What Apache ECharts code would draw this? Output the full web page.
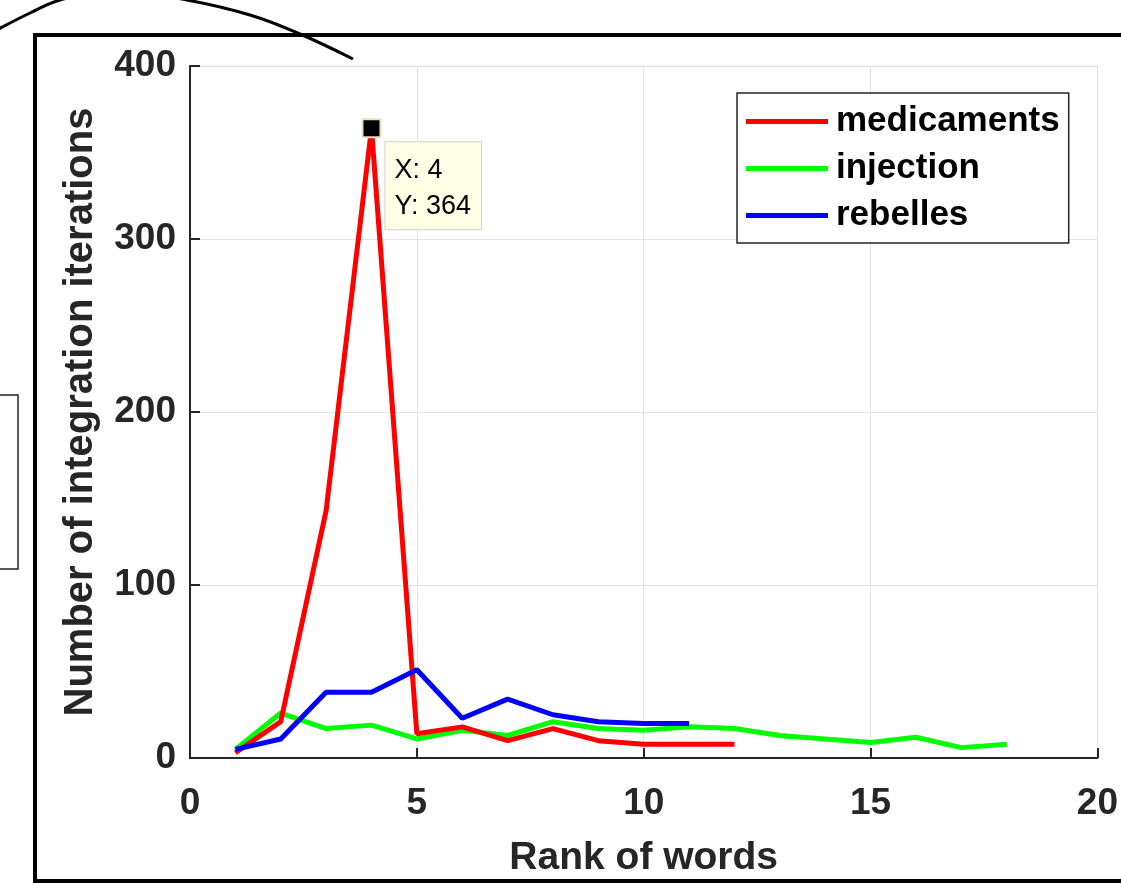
<!DOCTYPE html>
<html>
<head>
<meta charset="utf-8">
<script src="https://cdn.jsdelivr.net/npm/echarts@6/dist/echarts.min.js"></script>
<style>
html,body{margin:0;padding:0;background:#fff;}
#chart{width:1121px;height:883px;}
</style>
</head>
<body>
<div id="chart"></div>
<script>
// Data
const ranks = [1,2,3,4,5,6,7,8,9,10,11,12,13,14,15,16,17,18];
const medicaments = [3,21,143,364,14,18,10,17,10,8,8,8];
const injection = [5,26,17,19,11,16,13,21,17,16,18,17,13,11,9,12,6,8];
const rebelles = [5,11,38,38,51,23,34,25,21,20,20];
const seriesNames = ['medicaments','injection','rebelles'];
const seriesColors = ['#ff0000','#00ff00','#0000ff'];
const xTicks = {min:0, max:20, interval:5};
const yTicks = {min:0, max:400, interval:100};
const dataTip = {x:4, y:364};

function pairs(vals){ return vals.map((v,i)=>[ranks[i], v]); }

const FONT = '"Liberation Sans", Arial, Helvetica, sans-serif';
const chart = echarts.init(document.getElementById('chart'));

const option = {
  backgroundColor:'#ffffff',
  animation:false,
  textStyle:{fontFamily:FONT},
  grid:{left:190, top:66, right:22, bottom:125, show:true, borderColor:'#e3e3e3', borderWidth:1, backgroundColor:'transparent'},
  xAxis:{
    type:'value', min:xTicks.min, max:xTicks.max, interval:xTicks.interval,
    name:'Rank of words', nameLocation:'middle', nameGap:81,
    nameTextStyle:{fontSize:39, fontWeight:'bold', color:'#262626', fontFamily:FONT},
    axisLine:{show:true, onZero:false, lineStyle:{color:'#262626', width:2}},
    axisTick:{show:true, inside:true, length:10, lineStyle:{color:'#262626', width:2}},
    axisLabel:{fontSize:37, fontWeight:'bold', color:'#262626', margin:27, fontFamily:FONT},
    splitLine:{show:true, lineStyle:{color:'#e3e3e3', width:1}}
  },
  yAxis:{
    type:'value', min:yTicks.min, max:yTicks.max, interval:yTicks.interval,
    name:'Number of integration iterations', nameLocation:'middle', nameGap:89,
    nameTextStyle:{fontSize:40, fontWeight:'bold', color:'#262626', fontFamily:FONT},
    axisLine:{show:true, onZero:false, lineStyle:{color:'#262626', width:2}},
    axisTick:{show:true, inside:true, length:10, lineStyle:{color:'#262626', width:2}},
    axisLabel:{fontSize:37, fontWeight:'bold', color:'#262626', margin:14, fontFamily:FONT, padding:[4,0,0,0]},
    splitLine:{show:true, lineStyle:{color:'#e3e3e3', width:1}}
  },
  legend:{
    orient:'vertical', left:737, top:93,
    data:seriesNames,
    icon:'rect', itemWidth:82, itemHeight:5, itemGap:10,
    padding:[10,9,9,9],
    backgroundColor:'#ffffff', borderColor:'#262626', borderWidth:1.5,
    textStyle:{fontSize:35, fontWeight:'bold', color:'#000', lineHeight:37, padding:[0,0,0,3], fontFamily:FONT}
  },
  series:[
    {name:seriesNames[0], type:'line', data:pairs(medicaments), showSymbol:false, color:seriesColors[0],
     lineStyle:{width:5, color:seriesColors[0]}, z:3,
     markPoint:{
       symbol:'rect', symbolSize:18,
       itemStyle:{color:'#000000', borderColor:'#e6e2bf', borderWidth:2},
       data:[{coord:[dataTip.x, dataTip.y]}],
       label:{show:true, formatter:'X: '+dataTip.x+'\nY: '+dataTip.y,
         position:[24,24], align:'left', verticalAlign:'top',
         fontSize:27, lineHeight:36, color:'#000', fontFamily:FONT,
         backgroundColor:'#ffffe6', borderColor:'#cfcfcf', borderWidth:1,
         padding:[10,10,5,9]}
     }},
    {name:seriesNames[1], type:'line', data:pairs(injection), showSymbol:false, color:seriesColors[1],
     lineStyle:{width:5, color:seriesColors[1]}, z:2},
    {name:seriesNames[2], type:'line', data:pairs(rebelles), showSymbol:false, color:seriesColors[2],
     lineStyle:{width:5, color:seriesColors[2]}, z:4}
  ],
  graphic:[
    {type:'rect', shape:{x:35, y:35, width:1200, height:846}, style:{fill:null, stroke:'#000', lineWidth:4}, z:100, silent:true},
    {type:'rect', shape:{x:-10, y:395, width:28, height:174}, style:{fill:null, stroke:'#222', lineWidth:1.5}, z:100, silent:true},
    {type:'polyline', shape:{points:[[-5,31],[30,13],[60,0],[115,-10],[187,0],[250,15],[300,34],[353,59]], smooth:0.4},
     style:{fill:null, stroke:'#000', lineWidth:3}, z:101, silent:true}
  ]
};
chart.setOption(option);
</script>
</body>
</html>
